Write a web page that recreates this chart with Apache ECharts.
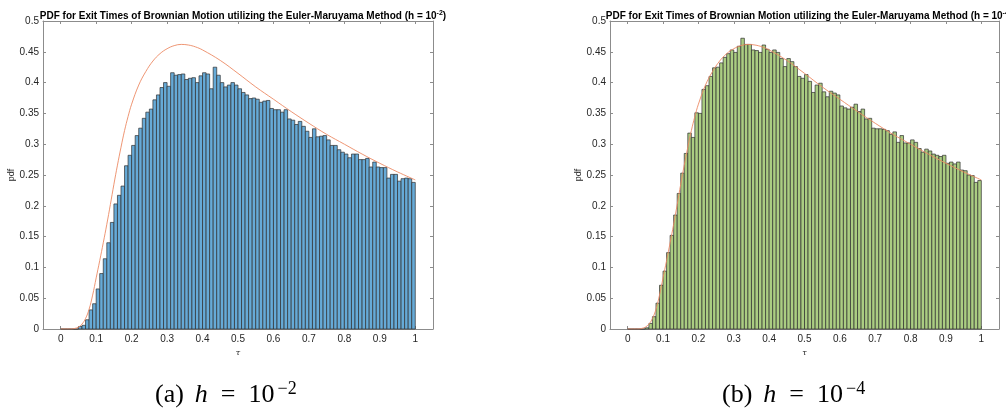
<!DOCTYPE html>
<html>
<head>
<meta charset="utf-8">
<script src="https://cdn.jsdelivr.net/npm/echarts@6.0.0/dist/echarts.min.js"></script>
<style>
  html, body { margin: 0; padding: 0; background: #fff; }
  #main { width: 1006px; height: 412px; }
</style>
</head>
<body>
<div id="main"></div>
<script>
// bin width of both histograms
const binWidth = 0.01;

// histogram heights, h = 1e-2 (bins 0..0.01, 0.01..0.02, ... 0.99..1)
const pdfCoarse = [
  0, 0, 0, 0, 0, 0.004, 0.006, 0.015, 0.031, 0.041,
  0.065, 0.090, 0.114, 0.140, 0.173, 0.203, 0.217, 0.232, 0.265, 0.282,
  0.298, 0.314, 0.326, 0.342, 0.352, 0.357, 0.372, 0.380, 0.392, 0.400,
  0.394, 0.416, 0.412, 0.413, 0.414, 0.405, 0.407, 0.408, 0.400, 0.411,
  0.416, 0.414, 0.390, 0.425, 0.412, 0.400, 0.393, 0.396, 0.400, 0.396,
  0.390, 0.384, 0.380, 0.374, 0.375, 0.373, 0.368, 0.370, 0.371, 0.358,
  0.356, 0.356, 0.352, 0.356, 0.341, 0.339, 0.332, 0.337, 0.329, 0.321,
  0.311, 0.325, 0.312, 0.313, 0.314, 0.307, 0.298, 0.298, 0.291, 0.287,
  0.284, 0.278, 0.284, 0.284, 0.275, 0.275, 0.277, 0.263, 0.271, 0.263,
  0.262, 0.262, 0.245, 0.251, 0.251, 0.240, 0.244, 0.245, 0.244, 0.238
];

// histogram heights, h = 1e-4
const pdfFine = [
  0, 0, 0, 0, 0, 0.002, 0.009, 0.020, 0.042, 0.071,
  0.094, 0.124, 0.152, 0.185, 0.220, 0.253, 0.285, 0.318, 0.311, 0.351,
  0.350, 0.389, 0.395, 0.410, 0.424, 0.425, 0.432, 0.441, 0.447, 0.453,
  0.449, 0.459, 0.472, 0.462, 0.462, 0.453, 0.452, 0.449, 0.461, 0.454,
  0.449, 0.453, 0.449, 0.439, 0.426, 0.439, 0.434, 0.426, 0.410, 0.407,
  0.413, 0.402, 0.384, 0.396, 0.399, 0.385, 0.377, 0.386, 0.383, 0.380,
  0.362, 0.359, 0.357, 0.360, 0.365, 0.353, 0.357, 0.341, 0.342, 0.326,
  0.325, 0.325, 0.324, 0.322, 0.316, 0.320, 0.303, 0.314, 0.302, 0.302,
  0.307, 0.303, 0.293, 0.287, 0.292, 0.289, 0.284, 0.282, 0.280, 0.282,
  0.269, 0.271, 0.268, 0.271, 0.258, 0.257, 0.250, 0.249, 0.238, 0.241
];

const curveTau = [0, 0.03, 0.04, 0.05, 0.06, 0.07, 0.08, 0.09, 0.10, 0.11,
  0.12, 0.13, 0.14, 0.15, 0.16, 0.17, 0.18, 0.19, 0.20, 0.22,
  0.24, 0.26, 0.28, 0.30, 0.32, 0.34, 0.36, 0.38, 0.40, 0.45,
  0.50, 0.55, 0.60, 0.65, 0.70, 0.75, 0.80, 0.85, 0.90, 0.95, 1.00];
const curvePdf = [0, 0, 0.001, 0.003, 0.008, 0.017, 0.032, 0.055, 0.083, 0.111,
  0.140, 0.170, 0.202, 0.235, 0.266, 0.295, 0.322, 0.345, 0.365, 0.396,
  0.418, 0.435, 0.447, 0.455, 0.460, 0.462, 0.461, 0.458, 0.453, 0.436,
  0.415, 0.393, 0.373, 0.353, 0.334, 0.316, 0.300, 0.284, 0.269, 0.255, 0.242];

const xTicks = [0, 0.1, 0.2, 0.3, 0.4, 0.5, 0.6, 0.7, 0.8, 0.9, 1];

const titleText = 'PDF for Exit Times of Brownian Motion utilizing the Euler-Maruyama Method (h = 10';

let chart = echarts.init(document.getElementById('main'), null, {renderer: 'canvas'});

const FONT = 'Liberation Sans, Arial, Helvetica, sans-serif';
const SERIF = 'Liberation Serif, DejaVu Serif, serif';
const boxColor = '#8c8c8c';
const labelColor = '#262626';

// turn heights into [left, right, height]
function toBins(arr){
  let out = [];
  for(let i = 0; i < arr.length; i++){
    out.push([i * binWidth, (i + 1) * binWidth, arr[i]]);
  }
  return out;
}

function histItem(fill){
  return function(params, api){
    let p0 = api.coord([api.value(0), api.value(2)]);
    let p1 = api.coord([api.value(1), 0]);
    return {
      type: 'rect',
      shape: {x: p0[0], y: p0[1], width: p1[0] - p0[0], height: p1[1] - p0[1]},
      style: {fill: fill, stroke: '#2e2e2e', lineWidth: 0.7}
    };
  };
}

function fmt(v){
  return String(Math.round(v * 100) / 100);
}

// bottom/left axes with labels, top/right axes only as box with ticks
function xAxes(grid){
  return [{
    type: 'value', gridIndex: grid, min: -0.05, max: 1.05, position: 'bottom',
    axisLine: {onZero: false, lineStyle: {color: boxColor, width: 1}},
    axisTick: {inside: true, length: 3, customValues: xTicks, lineStyle: {color: boxColor}},
    axisLabel: {customValues: xTicks, formatter: fmt, fontSize: 10, color: labelColor, fontFamily: FONT, margin: 5},
    splitLine: {show: false},
    name: 'τ', nameLocation: 'middle', nameGap: 19,
    nameTextStyle: {fontSize: 8, fontStyle: 'italic', color: labelColor, fontFamily: 'DejaVu Serif, serif'}
  }, {
    type: 'value', gridIndex: grid, min: -0.05, max: 1.05, position: 'top',
    axisLine: {onZero: false, lineStyle: {color: boxColor, width: 1}},
    axisTick: {inside: true, length: 3, customValues: xTicks, lineStyle: {color: boxColor}},
    axisLabel: {show: false},
    splitLine: {show: false}
  }];
}

function yAxes(grid){
  return [{
    type: 'value', gridIndex: grid, min: 0, max: 0.5, interval: 0.05, position: 'left',
    axisLine: {show: true, onZero: false, lineStyle: {color: boxColor, width: 1}},
    axisTick: {show: true, inside: true, length: 3, lineStyle: {color: boxColor}},
    axisLabel: {formatter: fmt, fontSize: 10, color: labelColor, fontFamily: FONT, margin: 4},
    splitLine: {show: false},
    name: 'pdf', nameLocation: 'middle', nameGap: 23,
    nameTextStyle: {fontSize: 9, color: labelColor, fontFamily: FONT}
  }, {
    type: 'value', gridIndex: grid, min: 0, max: 0.5, interval: 0.05, position: 'right',
    axisLine: {show: true, onZero: false, lineStyle: {color: boxColor, width: 1}},
    axisTick: {show: true, inside: true, length: 3, lineStyle: {color: boxColor}},
    axisLabel: {show: false},
    splitLine: {show: false}
  }];
}

function title(cx, power){
  return {
    text: '{t|' + titleText + '}{s|' + power + '}{t|)}',
    left: cx, top: 5, textAlign: 'center',
    textStyle: {
      rich: {
        t: {fontSize: 10, fontWeight: 'bold', color: '#000', fontFamily: FONT, lineHeight: 12},
        s: {fontSize: 7, fontWeight: 'bold', color: '#000', fontFamily: FONT, lineHeight: 7, verticalAlign: 'top'}
      }
    }
  };
}

function caption(x, letter, power){
  return {
    type: 'text', left: x, top: 380,
    style: {
      text: '{p|(' + letter + ')}{i|h}{e|=}{n|10}{s|' + power + '}',
      rich: {
        p: {fontSize: 26, fontFamily: SERIF, fill: '#000', lineHeight: 30, padding: [0, 11, 0, 0]},
        i: {fontSize: 26, fontStyle: 'italic', fontFamily: SERIF, fill: '#000', lineHeight: 30, padding: [0, 13, 0, 0]},
        e: {fontSize: 26, fontFamily: SERIF, fill: '#000', lineHeight: 30, padding: [0, 13, 0, 0]},
        n: {fontSize: 26, fontFamily: SERIF, fill: '#000', lineHeight: 30},
        s: {fontSize: 18, fontFamily: SERIF, fill: '#000', lineHeight: 18, verticalAlign: 'top', padding: [0, 0, 0, 3]}
      }
    }
  };
}

let curveData = curveTau.map((t, i) => [t, curvePdf[i]]);

let option = {
  backgroundColor: '#fff',
  animation: false,
  title: [title(238, '-2'), title(804, '-4')],
  grid: [
    {left: 43, top: 21, width: 390, height: 308},
    {left: 610, top: 21, width: 389, height: 308}
  ],
  xAxis: xAxes(0).concat(xAxes(1)),
  yAxis: yAxes(0).concat(yAxes(1)),
  series: [
    {
      type: 'custom', xAxisIndex: 0, yAxisIndex: 0,
      renderItem: histItem('#66aad7'),
      encode: {x: [0, 1], y: 2},
      data: toBins(pdfCoarse)
    },
    {
      type: 'line', xAxisIndex: 0, yAxisIndex: 0, z: 5,
      data: curveData, smooth: 0.4, showSymbol: false,
      lineStyle: {color: '#ec8a64', width: 0.9}
    },
    {
      type: 'custom', xAxisIndex: 2, yAxisIndex: 2,
      renderItem: histItem('#abcd82'),
      encode: {x: [0, 1], y: 2},
      data: toBins(pdfFine)
    },
    {
      type: 'line', xAxisIndex: 2, yAxisIndex: 2, z: 5,
      data: curveData, smooth: 0.4, showSymbol: false,
      lineStyle: {color: '#ec8a64', width: 0.9}
    }
  ],
  graphic: [caption(155, 'a', '−2'), caption(722, 'b', '−4')]
};

chart.setOption(option);
</script>
</body>
</html>
